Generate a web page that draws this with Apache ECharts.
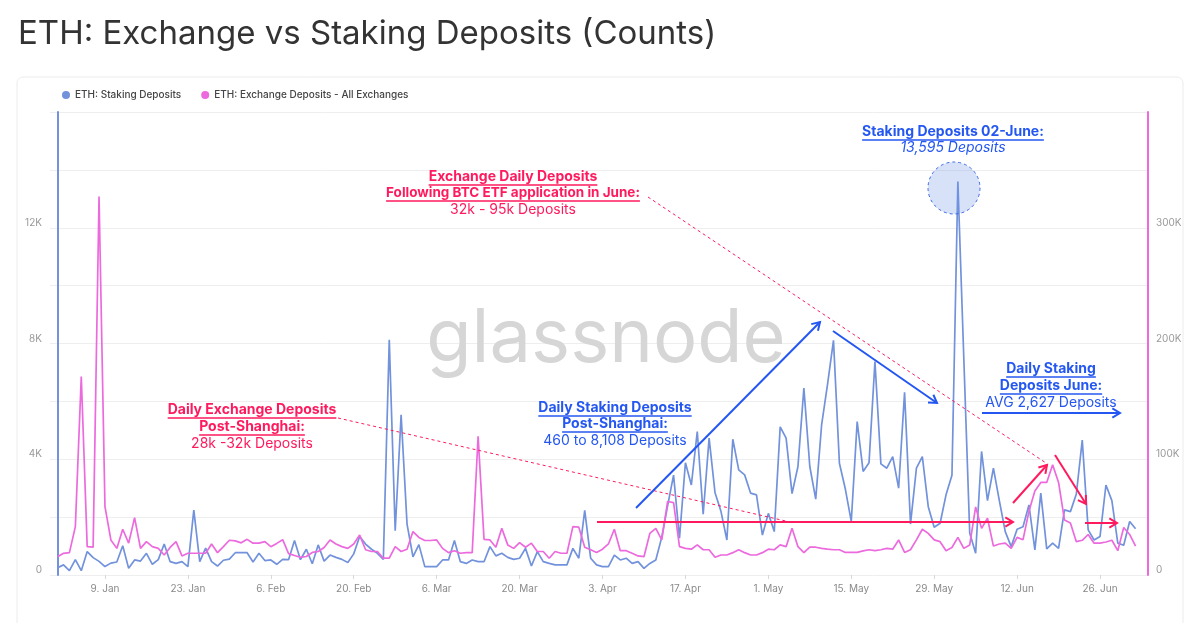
<!DOCTYPE html>
<html><head><meta charset="utf-8">
<script src="https://cdn.jsdelivr.net/npm/echarts@6/dist/echarts.min.js"></script>
<style>html,body{margin:0;padding:0;background:#fff}#c{width:1200px;height:623px}</style>
</head><body><div id="c"></div><script>
// Daily data from 1 Jan 2023 (index 0) to 2 Jul 2023
const seriesNames = ['ETH: Staking Deposits', 'ETH: Exchange Deposits - All Exchanges'];
const stakingDeposits = [
 250,350,150,530,150,810,600,470,290,410,
 450,1010,230,520,480,750,370,530,1070,460,
 400,460,290,2240,460,930,460,310,510,550,
 770,770,770,450,750,500,520,370,540,530,
 1190,530,890,390,1040,480,690,610,540,430,
 730,1330,1070,890,750,540,8130,1530,5540,1760,
 630,1050,290,290,290,520,520,1190,460,400,
 520,460,460,980,660,750,610,540,580,920,
 310,810,460,400,350,350,350,920,580,2230,
 580,350,290,290,690,520,580,400,460,230,
 400,520,1300,2400,3450,1270,3880,3110,4960,2100,
 4730,2840,2200,1210,4690,3630,3460,2830,2770,1380,
 2130,1500,5120,4730,2810,3750,6460,3750,2620,5200,
 6600,8108,3860,2970,1850,5300,3580,3880,7380,3840,
 3690,4090,3000,6310,1760,3690,4090,2360,1650,1790,
 2770,3450,13595,7500,1450,750,4270,2570,3690,2570,
 1500,980,1580,1670,2420,870,2830,900,1100,920,
 2250,2190,2800,4660,1560,1210,1330,3110,2570,1100,
 1030,1850,1600];
const exchangeDeposits = [
 15800,18700,19300,41800,171500,24500,24000,327000,59000,30300,
 23000,39500,27500,49500,23000,28800,24500,23000,17300,23800,
 28800,16500,18800,18800,18800,18800,26800,19300,24500,30000,
 29500,27800,30800,27500,27500,28800,24500,27300,30500,18500,
 16800,15300,16000,19500,20300,23800,30300,26800,24500,23000,
 26800,34500,21800,20300,20300,14500,14500,24500,20300,22300,
 37500,32500,29800,29800,30300,23000,19300,21000,18800,19300,
 19300,119800,30800,30300,24000,40300,26000,23000,28000,24000,
 27500,20300,20300,14500,20300,18800,18800,41800,41300,24000,
 21800,19500,22300,26800,39500,21000,21000,18800,16500,15800,
 36000,40300,30300,63500,62500,24500,23000,22300,26000,21800,
 21800,15300,17300,17300,19300,21800,19300,17300,17300,19300,
 22300,21800,26000,24500,40300,24500,19300,24000,24000,23000,
 22300,21800,21800,19500,19500,19500,20800,21800,21000,21800,
 23000,22300,30300,19500,21800,30300,39500,36000,30300,28800,
 21000,23800,32500,23000,26000,58800,40300,49000,25000,26800,
 27500,23000,32500,30500,55000,72500,80000,80000,95300,80000,
 47500,45000,28800,30000,35000,27500,27500,28500,30000,21000,
 41000,35000,25000];
const xTickLabels = ['9. Jan','23. Jan','6. Feb','20. Feb','6. Mar','20. Mar','3. Apr','17. Apr','1. May','15. May','29. May','12. Jun','26. Jun'];
const xTickDays = [8,22,36,50,64,78,92,106,120,134,148,162,176];
const leftTicks = [0,4000,8000,12000];
const rightTicks = [0,100000,200000,300000];

const BLUE = '#7292dc', PINK = '#ec6ade', RED = '#ff1a5e', ABLUE = '#2457f2';
const FONT = 'Inter, "Noto Sans", sans-serif';
const kfmt = v => v === 0 ? '0' : (v/1000) + 'K';

const cv = document.createElement('canvas').getContext('2d');
function tw(text, size, weight, style){ cv.font = (style||'normal') + ' ' + (weight||'normal') + ' ' + size + 'px Inter'; return cv.measureText(text).width; }

const G = [];
function txt(t, x, y, color, bold, underline, italic, size){
  size = size || 14;
  G.push({type:'text', z:100, style:{text:t, x:x, y:y, align:'center', verticalAlign:'middle', fill:color, fontSize:size, fontWeight: bold?'bold':'normal', fontStyle: italic?'italic':'normal', fontFamily:FONT}});
  if (underline){
    const w = tw(t, size, bold?'bold':'normal');
    G.push({type:'line', z:100, shape:{x1:x-w/2, y1:y+8, x2:x+w/2, y2:y+8}, style:{stroke:color, lineWidth:1.3}});
  }
}
function arrow(x1,y1,x2,y2,color,w){
  const a = Math.atan2(y2-y1, x2-x1), L = 9, s = 0.55;
  G.push({type:'line', z:100, shape:{x1,y1,x2,y2}, style:{stroke:color, lineWidth:w}});
  G.push({type:'polyline', z:100, shape:{points:[[x2-L*Math.cos(a-s), y2-L*Math.sin(a-s)],[x2,y2],[x2-L*Math.cos(a+s), y2-L*Math.sin(a+s)]]}, style:{stroke:color, lineWidth:w, fill:null}});
}
function dotted(x1,y1,x2,y2){
  G.push({type:'line', z:100, shape:{x1,y1,x2,y2}, style:{stroke:RED, lineWidth:1, lineDash:[3,3]}});
}

// card, title, watermark
G.push({type:'rect', z:0, shape:{x:17, y:77, width:1166, height:570, r:6}, style:{fill:null, stroke:'#ececec', lineWidth:1}});
G.push({type:'text', z:1, style:{text:'ETH: Exchange vs Staking Deposits (Counts)', x:18, y:34, verticalAlign:'middle', fontSize:33, fontFamily:FONT, fill:'#333'}});
G.push({type:'text', z:1, style:{text:'glassnode', x:606, y:340, align:'center', verticalAlign:'middle', fontSize:74, fontFamily:FONT, fill:'#d6d6d6'}});

// annotations
txt('Exchange Daily Deposits', 513, 177, RED, true, true);
txt('Following BTC ETF application in June:', 513, 193, RED, true, true, false, 13.5);
txt('32k - 95k Deposits', 513, 210, RED, false, false);
txt('Daily Exchange Deposits', 252, 410, RED, true, true);
txt('Post-Shanghai:', 252, 427, RED, true, true);
txt('28k -32k Deposits', 252, 444, RED, false, false);
txt('Daily Staking Deposits', 615, 408, ABLUE, true, true);
txt('Post-Shanghai:', 615, 424, ABLUE, true, true);
txt('460 to 8,108 Deposits', 615, 441, ABLUE, false, false);
txt('Staking Deposits 02-June:', 953, 132, ABLUE, true, true);
txt('13,595 Deposits', 953, 148, ABLUE, false, false, true);
txt('Daily Staking', 1051, 369, ABLUE, true, true);
txt('Deposits June:', 1051, 386, ABLUE, true, true);
txt('AVG 2,627 Deposits', 1051, 403, ABLUE, false, false);

G.push({type:'circle', z:99, shape:{cx:954, cy:188, r:26}, style:{fill:'rgba(110,150,235,0.28)', stroke:'#3a66e6', lineWidth:1, lineDash:[3,3]}});
dotted(338,418,790,522);
dotted(648,197,1046,463);
arrow(636,508,820,322,ABLUE,2);
arrow(833,331,937,403,ABLUE,2);
arrow(982,413,1120,413,ABLUE,2);
arrow(597,522,1013,522,RED,2);
arrow(1013,503,1047,465,RED,2);
arrow(1055,455,1086,504,RED,2);
arrow(1085,523,1117,523,RED,2);

const chart = echarts.init(document.getElementById('c'), null, {renderer:'canvas'});
chart.setOption({
  animation:false,
  textStyle:{fontFamily:FONT},
  legend:{left:57, top:85, icon:'circle', itemWidth:8, itemHeight:8, itemGap:20,
    textStyle:{fontSize:10, color:'#444', fontWeight:500, fontFamily:FONT}},
  grid:{left:50, right:52, top:112, bottom:48},
  xAxis:{type:'value', min:-1.28, max:184.1,
    axisLine:{show:false},
    splitLine:{show:false},
    axisTick:{show:true, customValues:xTickDays, length:4, lineStyle:{color:'#d8d8d8'}},
    axisLabel:{customValues:xTickDays, fontSize:10, color:'#8a8a8a', margin:9,
      formatter: v => { const i = xTickDays.indexOf(Math.round(v)); return i>=0 ? xTickLabels[i] : ''; }}
  },
  yAxis:[
    {type:'value', min:0, max:16000, interval:2000, position:'left',
      axisLine:{show:true, lineStyle:{color:BLUE, width:2}}, axisTick:{show:false},
      splitLine:{show:true, lineStyle:{color:'#eeeeee'}},
      axisLabel:{fontSize:10, color:'#9a9a9a', margin:8, verticalAlign:'bottom',
        formatter: v => leftTicks.indexOf(v)>=0 ? kfmt(v) : ''}},
    {type:'value', min:0, max:400000, interval:50000, position:'right',
      axisLine:{show:true, lineStyle:{color:PINK, width:2}}, axisTick:{show:false},
      splitLine:{show:false},
      axisLabel:{fontSize:10, color:'#9a9a9a', margin:8, verticalAlign:'bottom',
        formatter: v => rightTicks.indexOf(v)>=0 ? kfmt(v) : ''}}
  ],
  series:[
    {name:seriesNames[0], type:'line', yAxisIndex:0, showSymbol:false, symbol:'circle', color:BLUE,
      lineStyle:{width:1.7, color:BLUE}, data: stakingDeposits.map((v,i)=>[i,v])},
    {name:seriesNames[1], type:'line', yAxisIndex:1, showSymbol:false, symbol:'circle', color:PINK,
      lineStyle:{width:1.7, color:PINK}, data: exchangeDeposits.map((v,i)=>[i,v])}
  ],
  graphic: G
});
</script></body></html>
